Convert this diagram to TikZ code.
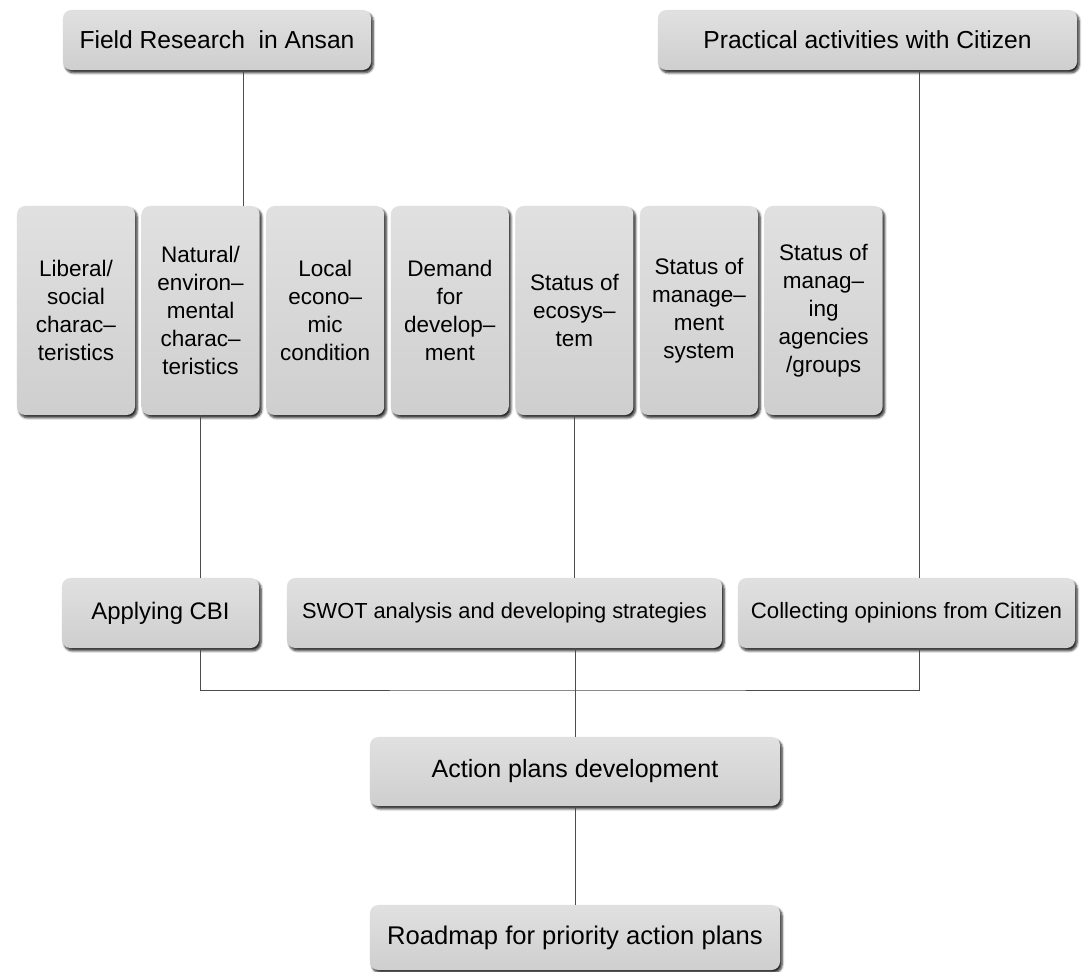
\documentclass[tikz,border=0pt]{standalone}
\usepackage{fontspec}
\setmainfont{Liberation Sans}
\usetikzlibrary{positioning, shadows, shadows.blur, calc}

\begin{document}
\begin{tikzpicture}[x=0.025cm, y=-0.025cm,
  box/.style={top color=gray!24, bottom color=gray!38, rounded corners=6pt, align=center, inner sep=2pt,
    blur shadow={shadow xshift=1.5pt, shadow yshift=-2pt, shadow blur steps=6, shadow blur radius=1.6pt, shadow opacity=85}},
  wide/.style={box, minimum height=1.6cm, font=\fontsize{17}{20}\selectfont},
  tall/.style={box, minimum width=2.95cm, minimum height=5.225cm, font=\fontsize{16}{20}\selectfont},
  link/.style={draw=black!70, line width=0.6pt}]
\useasboundingbox (0,0) rectangle (1088,972);
% Top row
\node[wide, minimum width=7.7cm, minimum height=1.5cm, font=\fontsize{17.5}{20}\selectfont] (fr) at (217,40) {Field Research\ \ in Ansan};
\node[wide, minimum width=10.475cm, minimum height=1.5cm, font=\fontsize{17.5}{20}\selectfont] (pa) at (867.5,40) {Practical activities with Citizen};
% Survey items
\foreach \txt [count=\i] in {{Liberal/\\social\\charac–\\teristics},
    {Natural/\\environ–\\mental\\charac–\\teristics},
    {Local\\econo–\\mic\\condition},
    {Demand\\for\\develop–\\ment},
    {Status of\\ecosys–\\tem},
    {Status of\\manage–\\ment\\system},
    {Status of\\manag–\\ing\\agencies\\/groups}}
  \node[tall] (t\i) at ({76+124.6*(\i-1)},310.5) {\txt};
% Analysis row
\node[wide, minimum width=4.925cm, minimum height=1.75cm] (cbi) at (160.5,613) {Applying CBI};
\node[wide, minimum width=10.875cm, minimum height=1.75cm, font=\fontsize{15.5}{18}\selectfont] (swot) at (504.5,613) {SWOT analysis and developing strategies};
\node[wide, minimum width=8.425cm, minimum height=1.75cm, font=\fontsize{15.8}{18}\selectfont] (coll) at (906.5,613) {Collecting opinions from Citizen};
% Results
\node[wide, minimum width=10.25cm, minimum height=1.725cm, font=\fontsize{17.8}{20}\selectfont] (act) at (575,771.5) {Action plans development};
\node[wide, minimum width=10.25cm, minimum height=1.625cm, font=\fontsize{18.2}{20}\selectfont] (road) at (575,937.5) {Roadmap for priority action plans};
% Connectors
\coordinate (frx) at ([xshift=0.65cm]fr.south);
\coordinate (pax) at ([xshift=1.31cm]pa.south);
\coordinate (mid) at (575,690);
\draw[link] (frx) -- (frx |- t2.north);
\draw[link] (pax) -- (pax |- coll.north);
\draw[link] (t2.south) -- (t2.south |- cbi.north);
\draw[link] (t5.south) -- (t5.south |- swot.north);
\draw[link] (t2.south |- cbi.south) |- (mid) -| (pax |- coll.south);
\draw[link] (act.north |- swot.south) -- (act.north);
\draw[link] (act) -- (road);
\end{tikzpicture}
\end{document}
